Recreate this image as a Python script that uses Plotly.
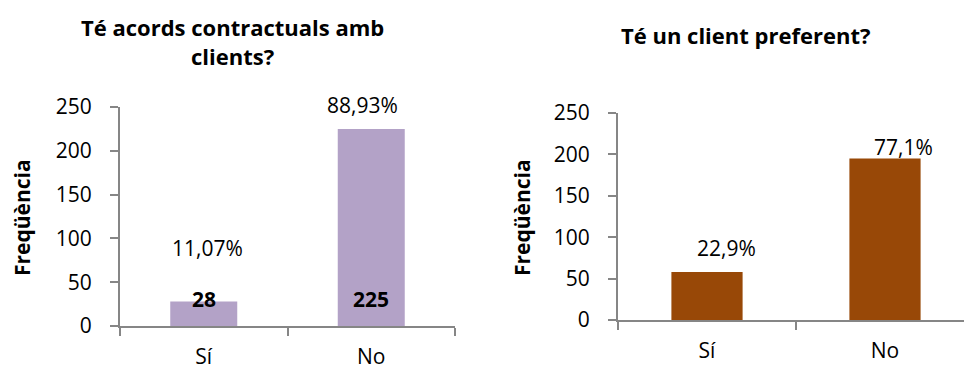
import plotly.graph_objects as go

categories = ["Sí", "No"]
contract_counts = [28, 225]
contract_pct = ["11,07%", "88,93%"]
preferred_counts = [58, 195]
preferred_pct = ["22,9%", "77,1%"]
y_ticks = [0, 50, 100, 150, 200, 250]

title_left = "Té acords contractuals amb<br>clients?"
title_right = "Té un client preferent?"
y_title = "Freqüència"

W, H = 964, 369
FONT = "Open Sans"
AX = "#868686"
LAV = "#B3A2C7"
BROWN = "#984807"
TS = 21   # tick / label font size
HS = 21   # bold y-title size
TT = 22   # chart title size

fig = go.Figure()
fig.add_trace(go.Bar(x=categories, y=contract_counts, marker=dict(color=LAV, line=dict(width=0)),
                     width=0.4, xaxis="x", yaxis="y", showlegend=False, hoverinfo="skip"))
fig.add_trace(go.Bar(x=categories, y=preferred_counts, marker=dict(color=BROWN, line=dict(width=0)),
                     width=0.4, xaxis="x2", yaxis="y2", showlegend=False, hoverinfo="skip"))

def xa(domain, rng, anchor):
    return dict(domain=domain, range=rng, type="category", showline=True, linecolor=AX, linewidth=2,
                ticks="outside", tickson="boundaries", ticklen=8, tickcolor=AX, tickwidth=2,
                showgrid=False, zeroline=False, fixedrange=True, automargin=False, anchor=anchor,
                ticklabelstandoff=11,
                tickfont=dict(family=FONT, size=TS, color="#000"))

def ya(domain, anchor):
    return dict(domain=domain, range=[0, 250], tickvals=y_ticks, showline=True, linecolor=AX, linewidth=2,
                ticks="outside", ticklen=8, tickcolor=AX, tickwidth=2, showgrid=False, zeroline=False,
                anchor=anchor, ticklabelstandoff=14, automargin=False, fixedrange=True,
                tickfont=dict(family=FONT, size=TS, color="#000"))

fig.update_layout(
    width=W, height=H, margin=dict(l=0, r=0, t=0, b=0, autoexpand=False),
    paper_bgcolor="white", plot_bgcolor="white", bargap=0.6,
    xaxis=xa([120 / W, 455 / W], [-0.5, 1.5], "y"),
    yaxis=ya([1 - 326 / H, 1 - 107 / H], "x"),
    xaxis2=xa([618 / W, 1.0], [-0.5, 1.5 - 10 / 178], "y2"),
    yaxis2=ya([1 - 320 / H, 1 - 113 / H], "x2"),
)

ann = []
# titles
ann.append(dict(text=f"<b>{title_left}</b>", x=232 / W, y=1 - 42 / H, xref="paper", yref="paper",
                showarrow=False, font=dict(family=FONT, size=TT, color="#000"), xanchor="center", yanchor="middle"))
ann.append(dict(text=f"<b>{title_right}</b>", x=745 / W, y=1 - 35 / H, xref="paper", yref="paper",
                showarrow=False, font=dict(family=FONT, size=TT, color="#000"), xanchor="center", yanchor="middle"))
for xp in (22, 522):
    ann.append(dict(text=f"<b>{y_title}</b>", x=xp / W, y=1 - 218 / H, xref="paper", yref="paper",
                    textangle=-90, showarrow=False, font=dict(family=FONT, size=HS, color="#000"),
                    xanchor="center", yanchor="middle"))

# percentage labels (left)
pct_shift_left = [(4, 53), (-9, 24)]
for c, v, t, (dx, dy) in zip(categories, contract_counts, contract_pct, pct_shift_left):
    ann.append(dict(text=t, x=c, y=v, xref="x", yref="y", showarrow=False, xshift=dx, yshift=dy,
                    font=dict(family=FONT, size=TS, color="#000"), xanchor="center", yanchor="middle"))
# bold counts inside bars (left)
for c, v in zip(categories, contract_counts):
    ann.append(dict(text=f"<b>{v}</b>", x=c, y=0, xref="x", yref="y", showarrow=False, yshift=27,
                    font=dict(family=FONT, size=TS, color="#000"), xanchor="center", yanchor="middle"))
# percentage labels (right)
pct_shift_right = [(19, 24), (18, 12)]
for c, v, t, (dx, dy) in zip(categories, preferred_counts, preferred_pct, pct_shift_right):
    ann.append(dict(text=t, x=c, y=v, xref="x2", yref="y2", showarrow=False, xshift=dx, yshift=dy,
                    font=dict(family=FONT, size=TS, color="#000"), xanchor="center", yanchor="middle"))

fig.update_layout(annotations=ann)
fig.write_html("out.html", config={"displayModeBar": False, "staticPlot": True},
               post_script="document.body.style.margin='0';document.body.style.overflow='hidden';")
